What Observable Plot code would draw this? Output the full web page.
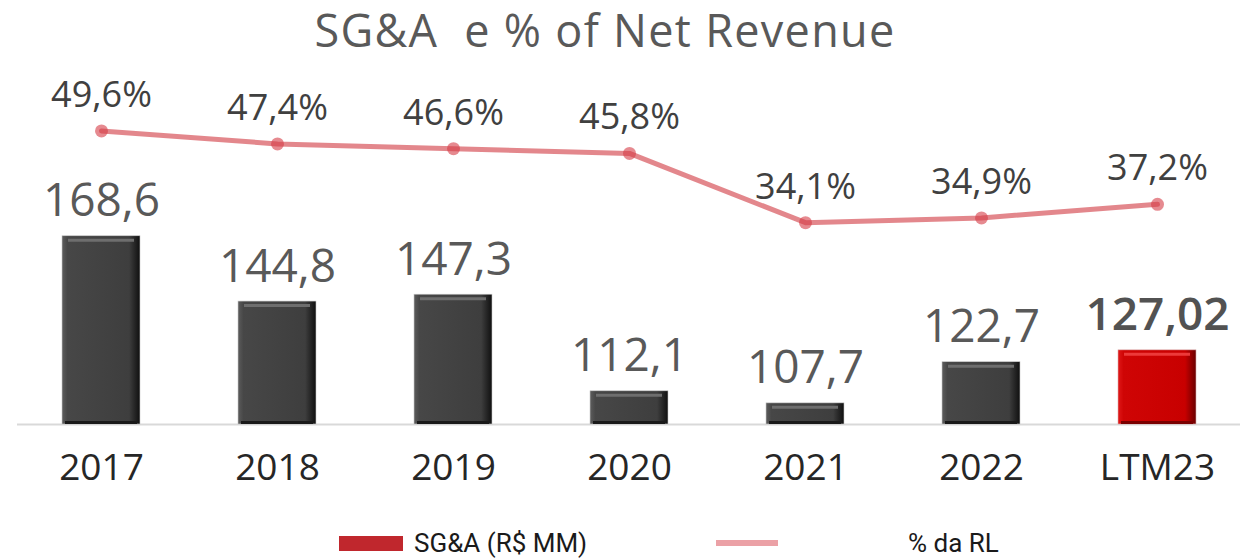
<!DOCTYPE html>
<html>
<head>
<meta charset="utf-8">
<script src="https://cdn.jsdelivr.net/npm/d3@7"></script>
<script src="https://cdn.jsdelivr.net/npm/@observablehq/plot@0.6"></script>
<style>
  html, body { margin: 0; padding: 0; background: #fff; }
  #wrap { position: relative; width: 1240px; height: 559px; overflow: hidden; font-family: "Open Sans", sans-serif; }
  #title { position: absolute; left: 0; width: 1210px; top: 7px; text-align: center; font-size: 45px; line-height: 45px; letter-spacing: 1.3px; color: #595959; white-space: pre; }
  #chart { position: absolute; left: 0; top: 60px; }
  .leg { position: absolute; font-family: Roboto, sans-serif; font-size: 26px; line-height: 26px; color: #1a1a1a; white-space: pre; }
  .sw-bar { position: absolute; left: 339px; top: 536px; width: 64px; height: 15px; background: #C0272D; }
  .sw-line { position: absolute; left: 716px; top: 540px; width: 62px; height: 6px; background: #EBA1A6; }
</style>
</head>
<body>
<div id="wrap">
  <div id="title">SG&amp;A  e % of Net Revenue</div>
  <div id="chart"></div>
  <div class="sw-bar"></div>
  <div class="leg" style="left:414px; top:530px;">SG&amp;A (R$ MM)</div>
  <div class="sw-line"></div>
  <div class="leg" style="left:908px; top:530px;">% da RL</div>
</div>
<script>
const categories = ["2017", "2018", "2019", "2020", "2021", "2022", "LTM23"];
const sgaValues  = [168.6, 144.8, 147.3, 112.1, 107.7, 122.7, 127.02];
const sgaLabels  = ["168,6", "144,8", "147,3", "112,1", "107,7", "122,7", "127,02"];
const pctValues  = [49.6, 47.4, 46.6, 45.8, 34.1, 34.9, 37.2];
const pctLabels  = ["49,6%", "47,4%", "46,6%", "45,8%", "34,1%", "34,9%", "37,2%"];
const highlight  = "LTM23";

const rows = categories.map((c, i) => ({
  cat: c, sga: sgaValues[i], sgaLabel: sgaLabels[i], pct: pctValues[i], pctLabel: pctLabels[i]
}));

const yDomain = [100, 232.65];
const pctDomain = [0, 61.5];
const pctToY = d3.scaleLinear().domain(pctDomain).range(yDomain);

const isHi = d => d.cat === highlight;
const notHi = d => d.cat !== highlight;

const chart = Plot.plot({
  width: 1240,
  height: 450,
  marginLeft: 17,
  marginRight: 0,
  marginTop: 0,
  marginBottom: 86,
  style: { fontFamily: "'Open Sans', sans-serif", background: "transparent" },
  x: { domain: categories, paddingInner: 0.557, paddingOuter: 0.25, axis: null },
  y: { domain: yDomain, axis: null },
  marks: [
    Plot.ruleY([yDomain[0]], { stroke: "#d9d9d9", strokeWidth: 2 }),
    Plot.barY(rows, { filter: notHi, x: "cat", y1: yDomain[0], y2: "sga", fill: "url(#gDark)", stroke: "#c8c8c8", strokeWidth: 0.6 }),
    Plot.barY(rows, { filter: isHi, x: "cat", y1: yDomain[0], y2: "sga", fill: "url(#gRed)", stroke: "#d8b0b0", strokeWidth: 0.6 }),
    Plot.tickY(rows, { filter: notHi, x: "cat", y: "sga", dy: 4, stroke: "#6e6e6e", strokeWidth: 3, insetLeft: 6, insetRight: 6 }),
    Plot.tickY(rows, { filter: isHi, x: "cat", y: "sga", dy: 4, stroke: "#ec3a3a", strokeWidth: 3, insetLeft: 6, insetRight: 6 }),
    Plot.tickY(rows, { filter: notHi, x: "cat", y: yDomain[0], dy: -2, stroke: "#1a1a1a", strokeWidth: 3, insetLeft: 3, insetRight: 3 }),
    Plot.tickY(rows, { filter: isHi, x: "cat", y: yDomain[0], dy: -2, stroke: "#7a0000", strokeWidth: 3, insetLeft: 3, insetRight: 3 }),
    Plot.text(rows, { filter: notHi, x: "cat", y: "sga", text: "sgaLabel", dy: -20, lineAnchor: "bottom", fontSize: 46, fill: "#595959", style: "letter-spacing:0.6px" }),
    Plot.text(rows, { filter: isHi, x: "cat", y: "sga", text: "sgaLabel", dy: -20, lineAnchor: "bottom", fontSize: 46, fontWeight: 600, fill: "#525252" }),
    Plot.line(rows, { x: "cat", y: d => pctToY(d.pct), stroke: "#E07A80", strokeWidth: 5, strokeOpacity: 0.9 }),
    Plot.dot(rows, { x: "cat", y: d => pctToY(d.pct), r: 6.5, fill: "#D63C46", fillOpacity: 0.6 }),
    Plot.text(rows, { x: "cat", y: d => pctToY(d.pct), text: "pctLabel", dy: -24, lineAnchor: "bottom", fontSize: 36, fill: "#404040" }),
    Plot.text(categories, { x: d => d, frameAnchor: "bottom", dy: 29, lineAnchor: "top", fontSize: 37, fill: "#262626" })
  ]
});

d3.select(chart).insert("defs", ":first-child").html(`
  <linearGradient id="gDark" x1="0" x2="1" y1="0" y2="0">
    <stop offset="0" stop-color="#5c5c5c"/>
    <stop offset="0.07" stop-color="#474747"/>
    <stop offset="0.86" stop-color="#3e3e3e"/>
    <stop offset="1" stop-color="#0f0f0f"/>
  </linearGradient>
  <linearGradient id="gRed" x1="0" x2="1" y1="0" y2="0">
    <stop offset="0" stop-color="#e01818"/>
    <stop offset="0.07" stop-color="#cf0505"/>
    <stop offset="0.86" stop-color="#c80000"/>
    <stop offset="1" stop-color="#6a0000"/>
  </linearGradient>
`);

document.getElementById("chart").appendChild(chart);
</script>
</body>
</html>
